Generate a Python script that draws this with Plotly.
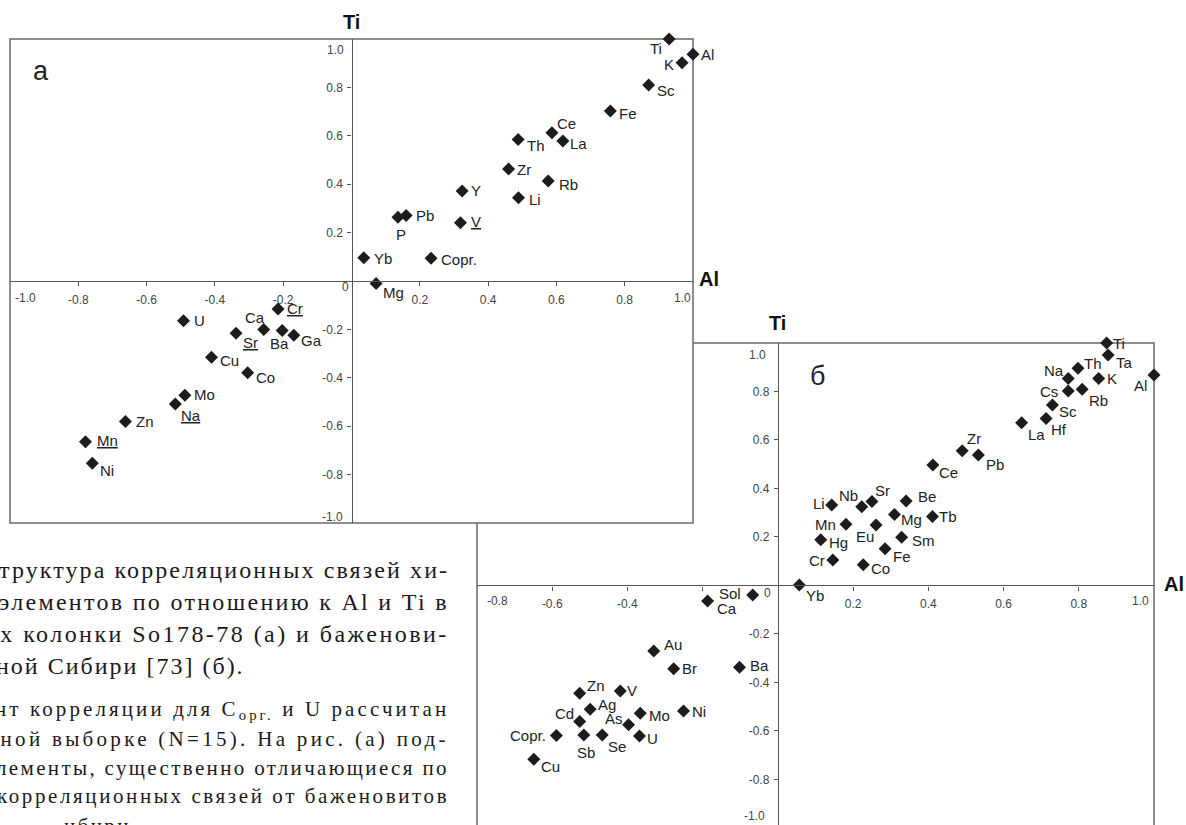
import plotly.graph_objects as go

# ---------------- data ----------------
# panel (a): correlation of elements with Al (x) and Ti (y), core So178-78
names_a = ["Ti", "Al", "K", "Sc", "Fe", "Ce", "La", "Th", "Zr", "Rb", "Li", "Y", "V", "Pb", "P",
           "Yb", "Copr.", "Mg", "U", "Cr", "Ca", "Ba", "Ga", "Sr", "Cu", "Co", "Mo", "Na", "Zn",
           "Mn", "Ni"]
al_a = [0.93, 1.0, 0.968, 0.87, 0.758, 0.587, 0.619, 0.488, 0.46, 0.576, 0.489, 0.324, 0.319,
        0.16, 0.136, 0.036, 0.233, 0.072, -0.492, -0.215, -0.257, -0.203, -0.169, -0.338, -0.41,
        -0.304, -0.488, -0.516, -0.662, -0.779, -0.759]
ti_a = [1.0, 0.937, 0.902, 0.81, 0.702, 0.613, 0.579, 0.585, 0.463, 0.413, 0.344, 0.372, 0.241,
        0.271, 0.263, 0.096, 0.094, -0.01, -0.164, -0.116, -0.2, -0.205, -0.224, -0.216, -0.315,
        -0.379, -0.472, -0.508, -0.581, -0.664, -0.753]
underlined_a = ["V", "Cr", "Sr", "Na", "Mn"]

# panel (б): Bazhenov formation, Western Siberia
names_b = ["Ti", "Ta", "Al", "Th", "Na", "K", "Cs", "Rb", "Sc", "Hf", "La", "Zr", "Pb", "Ce", "Li",
           "Nb", "Sr", "Be", "Mn", "Eu", "Mg", "Tb", "Hg", "Sm", "Fe", "Cr", "Co", "Yb", "Sol",
           "Ca", "Au", "Br", "Ba", "Zn", "V", "Ag", "Mo", "Ni", "Cd", "As", "Copr.", "Sb", "Se",
           "U", "Cu"]
al_b = [0.874, 0.878, 1.0, 0.798, 0.772, 0.853, 0.772, 0.809, 0.73, 0.713, 0.648, 0.49, 0.533,
        0.412, 0.143, 0.223, 0.25, 0.341, 0.181, 0.261, 0.31, 0.411, 0.114, 0.329, 0.285, 0.146,
        0.227, 0.057, -0.067, -0.187, -0.33, -0.277, -0.102, -0.527, -0.419, -0.499, -0.366,
        -0.251, -0.527, -0.397, -0.589, -0.516, -0.467, -0.368, -0.649]
ti_b = [1.0, 0.95, 0.868, 0.896, 0.854, 0.854, 0.802, 0.809, 0.744, 0.689, 0.671, 0.556, 0.538,
        0.497, 0.332, 0.325, 0.346, 0.348, 0.252, 0.249, 0.293, 0.284, 0.188, 0.199, 0.151, 0.105,
        0.085, 0.002, -0.039, -0.064, -0.27, -0.344, -0.337, -0.445, -0.435, -0.511, -0.527,
        -0.518, -0.561, -0.575, -0.619, -0.617, -0.617, -0.621, -0.717]

ticks_a = [-0.8, -0.6, -0.4, -0.2, 0.2, 0.4, 0.6, 0.8]
ticks_bx = [-0.6, -0.4, -0.2, 0.2, 0.4, 0.6, 0.8]
ticktext_bx = ["-0.6", "-0.4", "", "0.2", "0.4", "0.6", "0.8"]
ticks_by = [-0.8, -0.6, -0.4, -0.2, 0.2, 0.4, 0.6, 0.8]

caption_big = ["труктура корреляционных связей хи-",
               "элементов по отношению к Al и Ti в",
               "их колонки So178-78 (а) и баженови-",
               "ной Сибири [73] (б)."]
caption_small = ["нт корреляции для C<sub>орг.</sub> и U рассчитан",
                 "нной выборке (N=15). На рис. (а) под-",
                 "лементы, существенно отличающиеся по",
                 "корреляционных связей от баженовитов",
                 "ибири."]

# ---------------- layout constants (style / geometry) ----------------
W, H = 1186, 825
XA_PX, YA_PX = (10, 693), (39, 523)       # panel a box (left,right) (top,bottom)
XB_PX, YB_PX = (477, 1154), (343, 825)    # panel b box
RX_A, RY_A = [-1.0, 1.0], [-1.0, 1.0]
RX_B, RY_B = [-0.8, 1.0], [-0.988, 1.0]

# label offsets (pixels, dx right, dy down) relative to marker
OFF_A = {"Ti": (-13, 10), "Al": (14, 0), "K": (-13, 2), "Sc": (17, 6), "Fe": (18, 2),
         "Ce": (15, -9), "La": (16, 3), "Th": (18, 6), "Zr": (15, 1), "Rb": (20, 3),
         "Li": (17, 2), "Y": (14, 0), "V": (16, -1), "Pb": (19, 0), "P": (3, 17),
         "Yb": (19, 1), "Copr.": (28, 1), "Mg": (17, 9), "U": (16, 0), "Cr": (17, -1),
         "Ca": (-9, -12), "Ba": (-3, 13), "Ga": (18, 5), "Sr": (14, 9), "Cu": (18, 3),
         "Co": (18, 5), "Mo": (20, -1), "Na": (16, 12), "Zn": (20, 0), "Mn": (22, -1),
         "Ni": (15, 7)}
OFF_B = {"Ti": (12, 0), "Ta": (16, 7), "Al": (-14, 10), "Th": (15, -5), "Na": (-14, -8),
         "K": (13, 0), "Cs": (-19, 0), "Rb": (16, 11), "Sc": (16, 6), "Hf": (13, 11),
         "La": (15, 12), "Zr": (12, -12), "Pb": (17, 9), "Ce": (16, 8), "Li": (-13, -1),
         "Nb": (-13, -11), "Sr": (11, -11), "Be": (21, -5), "Mn": (-20, 0), "Eu": (-11, 11),
         "Mg": (17, 5), "Tb": (16, 0), "Hg": (18, 3), "Sm": (22, 3), "Fe": (17, 8),
         "Cr": (-16, 0), "Co": (17, 4), "Yb": (16, 11), "Sol": (-23, -1), "Ca": (19, 8),
         "Au": (19, -6), "Br": (16, 0), "Ba": (20, -2), "Zn": (16, -8), "V": (12, 0),
         "Ag": (17, -5), "Mo": (19, 2), "Ni": (16, 0), "Cd": (-15, -8), "As": (-15, -6),
         "Copr.": (-28, 0), "Sb": (2, 17), "Se": (15, 11), "U": (13, 2), "Cu": (17, 7)}

# caption letter spacing per line (emulates justified text)
SP_BIG = [2.1, 2.3, 2.45, 2.0]
SP_SMALL = [3.1, 3.3, 2.35, 2.6, 2.4]

SANS = "Liberation Sans, Arial, sans-serif"
SERIF = "Liberation Serif, Times New Roman, serif"
AXIS_COL = "#555555"
FRAME_COL = "#6a6a6a"
MARK_COL = "#1c1c1c"


def pxx(p):
    return p / W


def pxy(p):
    return 1 - p / H


def zero_pos(dom, rng):
    return dom[0] + (0 - rng[0]) / (rng[1] - rng[0]) * (dom[1] - dom[0])


dom_xa = [pxx(XA_PX[0]), pxx(XA_PX[1])]
dom_ya = [pxy(YA_PX[1]), pxy(YA_PX[0])]
dom_xb = [pxx(XB_PX[0]), pxx(XB_PX[1])]
dom_yb = [max(0.0, pxy(YB_PX[1])), pxy(YB_PX[0])]

fig = go.Figure()

marker = dict(symbol="diamond", size=10, color=MARK_COL, line=dict(width=0))
fig.add_trace(go.Scatter(x=al_a, y=ti_a, mode="markers", marker=marker, cliponaxis=False,
                         xaxis="x", yaxis="y", hoverinfo="skip", showlegend=False))
fig.add_trace(go.Scatter(x=al_b, y=ti_b, mode="markers", marker=marker, cliponaxis=False,
                         xaxis="x2", yaxis="y2", hoverinfo="skip", showlegend=False))

common = dict(showline=True, linecolor=AXIS_COL, linewidth=1.3, ticks="outside", ticklen=4,
              tickwidth=1, tickcolor=AXIS_COL, showgrid=False, zeroline=False,
              tickfont=dict(family=SANS, size=12, color="#444444"), fixedrange=True)

fig.update_layout(
    width=W, height=H, margin=dict(l=0, r=0, t=0, b=0),
    paper_bgcolor="white", plot_bgcolor="rgba(0,0,0,0)",
    xaxis=dict(domain=dom_xa, range=RX_A, anchor="free", position=zero_pos(dom_ya, RY_A),
               tickvals=ticks_a, ticktext=[f"{v:.1f}" for v in ticks_a], side="bottom",
               ticklabelstandoff=3, **common),
    yaxis=dict(domain=dom_ya, range=RY_A, anchor="free", position=zero_pos(dom_xa, RX_A),
               tickvals=ticks_a, ticktext=[f"{v:.1f}" for v in ticks_a], side="left",
               ticklabelstandoff=2, **common),
    xaxis2=dict(domain=dom_xb, range=RX_B, anchor="free", position=zero_pos(dom_yb, RY_B),
                tickvals=ticks_bx, ticktext=ticktext_bx, side="bottom",
                ticklabelstandoff=3, **common),
    yaxis2=dict(domain=dom_yb, range=RY_B, anchor="free", position=zero_pos(dom_xb, RX_B),
                tickvals=ticks_by, ticktext=[f"{v:.1f}" for v in ticks_by], side="left",
                ticklabelstandoff=2, **common),
)

# frames: panel б first, then panel a (white) on top of it
fig.add_shape(type="rect", xref="paper", yref="paper",
              x0=dom_xb[0], x1=dom_xb[1], y0=-0.05, y1=dom_yb[1],
              line=dict(color=FRAME_COL, width=1.5), fillcolor="rgba(0,0,0,0)", layer="below")
fig.add_shape(type="rect", xref="paper", yref="paper",
              x0=dom_xa[0], x1=dom_xa[1], y0=dom_ya[0], y1=dom_ya[1],
              line=dict(color=FRAME_COL, width=1.5), fillcolor="white", layer="below")

ann = []
label_font = dict(family=SANS, size=15, color="#222222")
for n, x, y in zip(names_a, al_a, ti_a):
    dx, dy = OFF_A[n]
    t = f"<u>{n}</u>" if n in underlined_a else n
    ann.append(dict(x=x, y=y, xref="x", yref="y", text=t, showarrow=False, font=label_font,
                    xanchor="center", yanchor="middle", xshift=dx, yshift=-dy))
for n, x, y in zip(names_b, al_b, ti_b):
    dx, dy = OFF_B[n]
    ann.append(dict(x=x, y=y, xref="x2", yref="y2", text=n, showarrow=False, font=label_font,
                    xanchor="center", yanchor="middle", xshift=dx, yshift=-dy))

tick_font = dict(family=SANS, size=12, color="#444444")


def txt(x, y, xr, yr, s, font, dx=0, dy=0, xa="center", ya="middle"):
    ann.append(dict(x=x, y=y, xref=xr, yref=yr, text=s, showarrow=False, font=font,
                    xanchor=xa, yanchor=ya, xshift=dx, yshift=-dy))


# edge tick labels and zero labels
txt(RX_A[0], 0, "x", "y", "-1.0", tick_font, 15, 17)
txt(RX_A[1], 0, "x", "y", "1.0", tick_font, -11, 17)
txt(0, RY_A[1], "x", "y", "1.0", tick_font, -16, 11)
txt(0, RY_A[0], "x", "y", "-1.0", tick_font, -19, -6)
txt(0, 0, "x", "y", "0", tick_font, -6, 6)
txt(RX_B[0], 0, "x2", "y2", "-0.8", tick_font, 20, 16)
txt(RX_B[1], 0, "x2", "y2", "1.0", tick_font, -14, 16)
txt(0, RY_B[1], "x2", "y2", "1.0", tick_font, -20, 12)
txt(0, -0.8, "x2", "y2", "-1.0", tick_font, -23, 37)
txt(0, 0, "x2", "y2", "0", tick_font, -10, 8)

# axis titles
title_font = dict(family=SANS, size=20, color="#111111")
txt(0, RY_A[1], "x", "y", "<b>Ti</b>", title_font, 0, -17)
txt(RX_A[1], 0, "x", "y", "<b>Al</b>", title_font, 16, -2)
txt(0, RY_B[1], "x2", "y2", "<b>Ti</b>", title_font, 0, -20)
txt(RX_B[1], 0, "x2", "y2", "<b>Al</b>", title_font, 20, -1)

# panel letters
letter_font = dict(family=SANS, size=27, color="#222222")
txt(pxx(41), pxy(71), "paper", "paper", "a", letter_font)
txt(pxx(817), pxy(376), "paper", "paper", "б", letter_font)

# caption text (cut off at the left edge)
big_font = dict(family=SERIF, size=24, color="#1a1a1a")
small_font = dict(family=SERIF, size=21, color="#1a1a1a")
big_y = [570, 602, 634, 666]
for i, line in enumerate(caption_big):
    right = 247 if i == 3 else 451
    txt(pxx(right), pxy(big_y[i]), "paper", "paper",
        f'<span style="letter-spacing:{SP_BIG[i]}px">{line}</span>', big_font, xa="right")
small_y = [710, 739, 768, 796]
for i, line in enumerate(caption_small[:4]):
    txt(pxx(451), pxy(small_y[i]), "paper", "paper",
        f'<span style="letter-spacing:{SP_SMALL[i]}px">{line}</span>', small_font, xa="right")
txt(pxx(62), pxy(826), "paper", "paper",
    f'<span style="letter-spacing:{SP_SMALL[4]}px">{caption_small[4]}</span>', small_font,
    xa="left")

fig.update_layout(annotations=ann)
fig.write_html("out.html")
